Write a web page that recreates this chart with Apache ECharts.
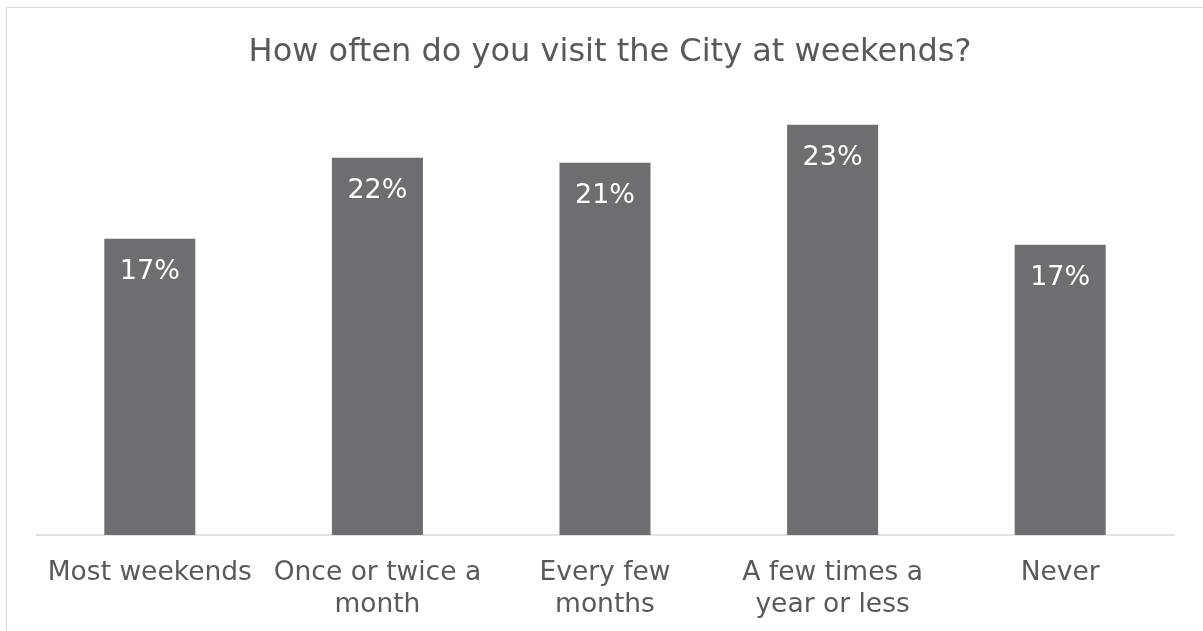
<!DOCTYPE html>
<html>
<head>
<meta charset="utf-8">
<script src="https://cdn.jsdelivr.net/npm/echarts@6/dist/echarts.min.js"></script>
<style>
html,body{margin:0;padding:0;background:#fff;}
#frame{position:absolute;left:6px;top:7px;width:1300px;height:700px;border:1px solid #d9d9d9;box-sizing:border-box;}
#chart{position:absolute;left:0;top:0;width:1203px;height:631px;}
</style>
</head>
<body>
<div id="frame"></div>
<div id="chart"></div>
<script>
const titleText = 'How often do you visit the City at weekends?';
const categories = ['Most weekends', 'Once or twice a\nmonth', 'Every few\nmonths', 'A few times a\nyear or less', 'Never'];
const values = [16.6, 21.15, 20.86, 23.0, 16.27];
const valueLabels = ['17%', '22%', '21%', '23%', '17%'];

const chart = echarts.init(document.getElementById('chart'), null, {renderer: 'canvas'});
const font = "'DejaVu Sans', Verdana, sans-serif";
chart.setOption({
  animation: false,
  backgroundColor: 'transparent',
  title: {
    text: titleText,
    left: 605,
    textAlign: 'center',
    top: 32,
    textStyle: {color: '#595959', fontSize: 32, fontWeight: 'normal', fontFamily: font}
  },
  grid: {left: 36, right: 29, top: 89, bottom: 96, containLabel: false},
  xAxis: {
    type: 'category',
    data: categories,
    axisLine: {show: true, lineStyle: {color: '#d9d9d9', width: 1.5}},
    axisTick: {show: false},
    axisLabel: {color: '#595959', fontSize: 26.5, fontFamily: font, margin: 22, lineHeight: 32, interval: 0}
  },
  yAxis: {
    type: 'value', min: 0, max: 25,
    show: false,
    splitLine: {show: false}
  },
  series: [{
    type: 'bar',
    data: values,
    barCategoryGap: '60%',
    itemStyle: {color: '#6d6e71'},
    label: {
      show: true,
      position: 'insideTop',
      distance: 20,
      color: '#ffffff',
      fontSize: 27,
      fontFamily: font,
      formatter: p => valueLabels[p.dataIndex]
    }
  }]
});
</script>
</body>
</html>
